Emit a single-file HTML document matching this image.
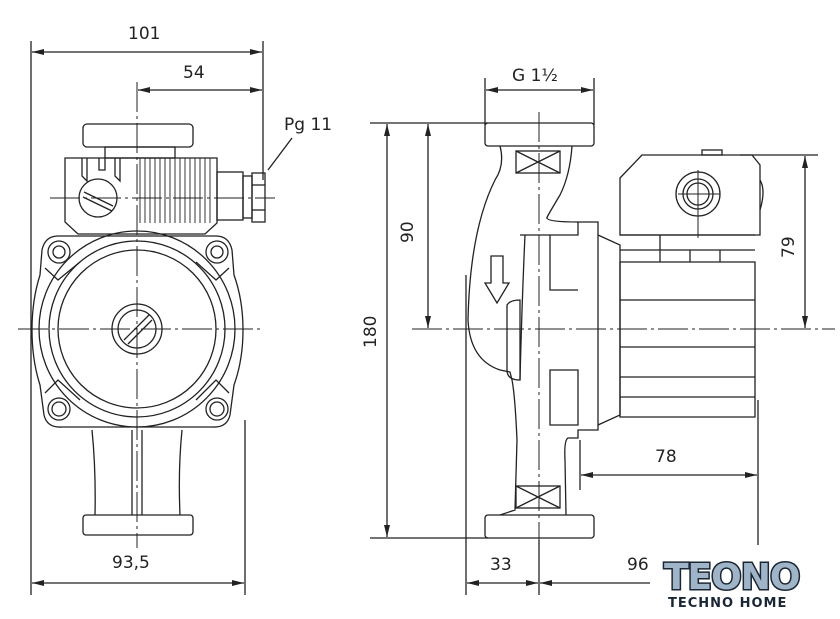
<!DOCTYPE html>
<html><head><meta charset="utf-8"><style>
html,body{margin:0;padding:0;background:#fff}
svg{display:block}
text{font-family:"DejaVu Sans","Liberation Sans",sans-serif;fill:#222;font-size:17px}
</style></head><body>
<svg width="840" height="619" viewBox="0 0 840 619" xmlns="http://www.w3.org/2000/svg">
<defs>
<marker id="a" viewBox="0 0 12 6" refX="12" refY="3" markerWidth="12" markerHeight="6" orient="auto-start-reverse" markerUnits="userSpaceOnUse"><path d="M0,0L12,3L0,6z" fill="#222"/></marker>
</defs>
<g stroke="#222" stroke-width="1.3" fill="none">
<!-- dimension lines left -->
<line x1="31" y1="41" x2="31" y2="595"/>
<line x1="263" y1="41" x2="263" y2="180"/>
<line x1="245" y1="420" x2="245" y2="595"/>
<line x1="32" y1="52" x2="262" y2="52" marker-start="url(#a)" marker-end="url(#a)"/>
<line x1="138" y1="90" x2="262" y2="90" marker-start="url(#a)" marker-end="url(#a)"/>
<line x1="32" y1="583" x2="244" y2="583" marker-start="url(#a)" marker-end="url(#a)"/>
<line x1="268" y1="170" x2="292" y2="138"/>
<!-- center lines left -->
<line x1="137" y1="82" x2="137" y2="548" stroke-dasharray="30,4,3,4" stroke-width="1"/>
<line x1="18" y1="329" x2="262" y2="329" stroke-dasharray="30,4,3,4" stroke-width="1"/>
<line x1="50" y1="198" x2="275" y2="198" stroke-dasharray="30,4,3,4" stroke-width="1"/>
<!-- left view body -->
<rect x="83" y="124" width="110" height="23" rx="4"/>
<rect x="105" y="147" width="70" height="11"/>
<path d="M65,158 L217,158 L217,223 L205,234 L78,234 L65,222 Z"/>
<path d="M140,158 L140,223 M145,158 V223 M150,158V223 M155,158V223 M160,158V223 M165,158V223 M170,158V223 M175,158V223 M180,158V223 M185,158V223 M190,158V223 M195,158V223 M200,158V223 M205,158V223 M210,158V223" stroke-width="0.9"/>
<path d="M82,158 v18 l5,5 v-23 M99,158v12 h6 v-12 M115,158 v18 l5,5 v-23"/>
<circle cx="98" cy="198" r="19"/>
<line x1="84" y1="192" x2="113" y2="206"/>
<line x1="83" y1="197" x2="112" y2="211"/>
<rect x="217" y="172" width="26" height="48"/>
<rect x="243" y="176" width="9" height="42"/>
<rect x="252" y="173" width="13" height="49"/>
<line x1="252" y1="185" x2="265" y2="185"/><line x1="252" y1="210" x2="265" y2="210"/>
<!-- housing -->
<path d="M58,236 Q45,236 42,250 L40,275 Q32,300 32,330 Q32,360 40,385 L44,415 Q47,428 62,427 L212,427 Q227,428 230,415 L234,385 Q243,360 243,330 Q243,300 234,275 L232,250 Q229,236 216,236 Z"/>
<circle cx="137" cy="329" r="98"/>
<circle cx="137" cy="329" r="88"/>
<circle cx="137" cy="329" r="79"/>
<circle cx="137" cy="329" r="25"/>
<circle cx="137" cy="329" r="19"/>
<line x1="124" y1="340" x2="149" y2="315"/><line x1="128" y1="344" x2="152" y2="320"/>
<circle cx="59" cy="252" r="11"/><circle cx="59" cy="252" r="6"/>
<circle cx="217" cy="252" r="11"/><circle cx="217" cy="252" r="6"/>
<circle cx="59" cy="409" r="11"/><circle cx="59" cy="409" r="7"/>
<circle cx="217" cy="409" r="11"/><circle cx="217" cy="409" r="7"/>
<path d="M45,268 L58,280 L80,262 M229,268 L216,280 L196,262 M45,393 L58,380 L80,400 M229,393 L216,380 L196,400"/>
<path d="M92,430 Q96,470 95,515 M182,430 Q178,470 180,515"/>
<rect x="83" y="515" width="110" height="20" rx="3"/>
<line x1="132" y1="430" x2="132" y2="515"/><line x1="142" y1="430" x2="142" y2="515"/>
</g>
<text x="128" y="39">101</text>
<text x="183" y="78">54</text>
<text x="284" y="130">Pg 11</text>
<text x="112" y="568">93,5</text>

<!-- right view -->
<g stroke="#222" stroke-width="1.3" fill="none">
<line x1="370" y1="123" x2="488" y2="123"/>
<line x1="370" y1="538" x2="488" y2="538"/>
<line x1="387" y1="124" x2="387" y2="537" marker-start="url(#a)" marker-end="url(#a)"/>
<line x1="428" y1="124" x2="428" y2="328" marker-start="url(#a)" marker-end="url(#a)"/>
<line x1="485" y1="78" x2="485" y2="125"/><line x1="594" y1="78" x2="594" y2="125"/>
<line x1="486" y1="90" x2="593" y2="90" marker-start="url(#a)" marker-end="url(#a)"/>
<line x1="740" y1="155" x2="818" y2="155"/>
<line x1="805" y1="156" x2="805" y2="328" marker-start="url(#a)" marker-end="url(#a)"/>
<line x1="580" y1="440" x2="580" y2="490"/>
<line x1="758" y1="400" x2="758" y2="545"/>
<line x1="581" y1="475" x2="757" y2="475" marker-start="url(#a)" marker-end="url(#a)"/>
<line x1="466" y1="275" x2="466" y2="595"/>
<line x1="539" y1="540" x2="539" y2="595"/>
<line x1="467" y1="583" x2="538" y2="583" marker-start="url(#a)" marker-end="url(#a)"/>
<line x1="540" y1="583" x2="650" y2="583" marker-start="url(#a)"/>
<line x1="412" y1="329" x2="835" y2="329" stroke-dasharray="30,4,3,4" stroke-width="1"/>
<line x1="539" y1="112" x2="539" y2="548" stroke-dasharray="30,4,3,4" stroke-width="1"/>
<!-- volute -->
<rect x="485" y="123" width="109" height="23" rx="3"/>
<rect x="485" y="515" width="109" height="23" rx="3"/>
<rect x="516" y="151" width="44" height="22"/><path d="M516,151 L560,173 M560,151 L516,173"/>
<rect x="516" y="486" width="44" height="22"/><path d="M516,486 L560,508 M560,486 L516,508"/>
<path d="M500,146 Q505,165 495,180 Q470,230 468,320 Q470,360 500,370 L510,372 L512,380 Q515,395 517,440 L515,510 L500,515"/>
<path d="M572,146 Q570,175 560,195 Q545,220 547,218 Q548,222 578,222"/>
<path d="M520,235 L578,235 L578,222 L598,222 L598,430 L578,430 L578,438 L568,438 Q564,440 565,460 L566,515"/>
<path d="M525,235 Q522,300 520,380" />
<path d="M550,235 L550,290 L578,290 M550,370 L578,370 L578,425 L550,425 Z"/>
<path d="M598,235 L620,245 L620,415 L598,425"/>
<path d="M507,305 Q510,300 520,300 L520,380 Q507,380 507,370 Z"/>
<path d="M491,256 h12 v27 h6 l-12,20 l-12,-20 h6 z"/>
<!-- motor -->
<path d="M620,262 L755,262 L755,417 L620,417 Z"/>
<line x1="620" y1="300" x2="755" y2="300"/>
<line x1="620" y1="347" x2="755" y2="347"/>
<line x1="620" y1="377" x2="755" y2="377"/>
<line x1="620" y1="397" x2="755" y2="397"/>
<path d="M620,235 L755,235 M620,250 L755,250 M660,235 V262 M690,250 V262 M720,250 V262"/>
<path d="M620,178 L642,155 L752,155 L760,165 L760,235 L620,235 Z"/>
<rect x="702" y="150" width="20" height="5"/>
<circle cx="698" cy="194" r="22"/>
<circle cx="698" cy="194" r="15"/><circle cx="698" cy="194" r="11"/>
<path d="M678,194 H720 M698,170 V238" stroke-width="1"/>
<path d="M760,180 Q766,190 760,210"/>
</g>
<text x="512" y="81">G 1½</text>
<text x="655" y="462">78</text>
<text x="490" y="570">33</text>
<text x="627" y="570">96</text>
<text transform="translate(376,348) rotate(-90)">180</text>
<text transform="translate(413,243) rotate(-90)">90</text>
<text transform="translate(794,258) rotate(-90)">79</text>
<!-- logo -->
<g>
<text x="664" y="589" style="font-family:'DejaVu Sans',sans-serif;font-weight:bold;font-size:36px;fill:#9fb4c6;stroke:#1a2636;stroke-width:3;paint-order:stroke;letter-spacing:-1px">TEONO</text>
<text x="668" y="607" style="font-family:'DejaVu Sans',sans-serif;font-weight:bold;font-size:13px;fill:#1a2636;letter-spacing:1px">TECHNO HOME</text>
</g>
</svg>
</body></html>
